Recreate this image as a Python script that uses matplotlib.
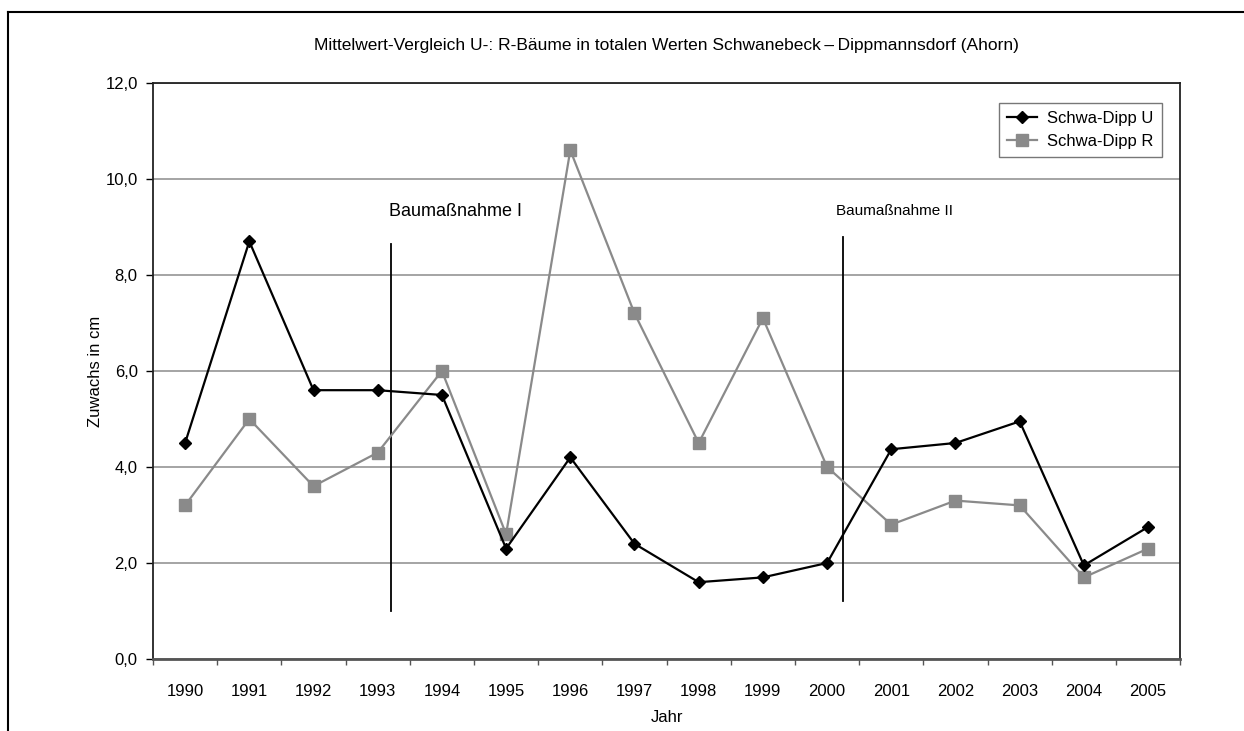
import numpy as np
import matplotlib
matplotlib.use("Agg")
import matplotlib.pyplot as plt
from matplotlib.lines import Line2D
from matplotlib.ticker import FuncFormatter, FixedLocator

plt.rcParams['font.family'] = ['Liberation Sans', 'DejaVu Sans']

years = [str(y) for y in range(1990, 2006)]
schwa_dipp_u = [4.5, 8.7, 5.6, 5.6, 5.5, 2.3, 4.2, 2.4, 1.6, 1.7, 2.0, 4.37, 4.5, 4.95, 1.95, 2.75]
schwa_dipp_r = [3.2, 5.0, 3.6, 4.3, 6.0, 2.6, 10.6, 7.2, 4.5, 7.1, 4.0, 2.8, 3.3, 3.2, 1.7, 2.3]

# Baumassnahmen: position (in category units) and vertical extent
massnahme_pos = [3.2, 10.25]
massnahme_y = [(1.0, 8.65), (1.2, 8.8)]
massnahme_text = ["Baumaßnahme I", "Baumaßnahme II"]

fig = plt.figure(figsize=(12.44, 7.31), dpi=100)
ax = fig.add_axes([0.123, 0.0985, 0.8257, 0.788])

x = np.arange(len(years))
ax.plot(x, schwa_dipp_u, color='black', marker='D', markersize=6, lw=1.6,
        label='Schwa-Dipp U', zorder=4)
ax.plot(x, schwa_dipp_r, color='#8a8a8a', marker='s', markersize=8, lw=1.6,
        label='Schwa-Dipp R', zorder=3)

for pos, (y0, y1) in zip(massnahme_pos, massnahme_y):
    ax.plot([pos, pos], [y0, y1], color='black', lw=1.3, zorder=2)
ax.text(3.18, 9.33, massnahme_text[0], fontsize=13, va='center', ha='left')
ax.text(10.14, 9.33, massnahme_text[1], fontsize=11, va='center', ha='left')

ax.set_xlim(-0.5, len(years) - 0.5)
ax.set_ylim(0, 12)
ax.set_yticks(np.arange(0, 12.1, 2))
ax.yaxis.set_major_formatter(FuncFormatter(lambda v, p: f"{v:.1f}".replace('.', ',')))
ax.grid(axis='y', color='#8c8c8c', lw=1.1)
ax.set_axisbelow(True)

ax.set_xticks(x)
ax.set_xticklabels(years)
ax.xaxis.set_minor_locator(FixedLocator(np.arange(-0.5, len(years), 1)))
ax.tick_params(axis='x', which='major', length=0, pad=18, labelsize=12)
ax.tick_params(axis='x', which='minor', length=4, width=1, color='#555555')
ax.tick_params(axis='y', length=5, width=1, pad=6, labelsize=12)

for s in ax.spines.values():
    s.set_linewidth(1.3)
    s.set_color('#222222')
ax.spines['bottom'].set_color('#555555')
ax.spines['bottom'].set_linewidth(2)

ax.set_xlabel('Jahr', fontsize=12, labelpad=8)
ax.set_ylabel('Zuwachs in cm', fontsize=12, labelpad=2)
ax.set_title('Mittelwert-Vergleich U-: R-Bäume in totalen Werten Schwanebeck\u2009–\u2009Dippmannsdorf (Ahorn)',
             fontsize=12.5, pad=24)

leg = ax.legend(loc='upper right', bbox_to_anchor=(0.99, 0.98), fontsize=12,
                frameon=True, fancybox=False, edgecolor='#555555',
                handlelength=1.8, handletextpad=0.6, borderpad=0.5, labelspacing=0.45)
leg.get_frame().set_linewidth(1)

# outer frame (left and top edges visible)
fig.add_artist(Line2D([8 / 1244, 8 / 1244], [0, 1 - 12 / 731], color='black', lw=1.5,
                      transform=fig.transFigure))
fig.add_artist(Line2D([8 / 1244, 1], [1 - 12 / 731, 1 - 12 / 731], color='black', lw=1.5,
                      transform=fig.transFigure))

fig.savefig('out.png', dpi=100, facecolor='white')
